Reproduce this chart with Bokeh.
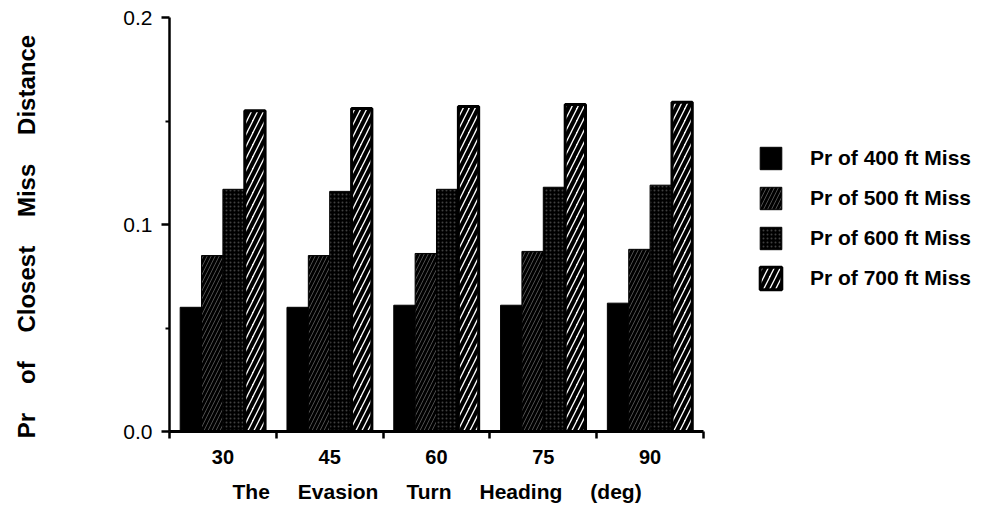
from bokeh.plotting import figure
from bokeh.models import ColumnDataSource, FixedTicker, Range1d, Legend, LegendItem, PrintfTickFormatter, Title
from bokeh.transform import dodge
from bokeh.embed import file_html
from bokeh.resources import INLINE

headings = ["30", "45", "60", "75", "90"]
pr400 = [0.060, 0.060, 0.061, 0.061, 0.062]
pr500 = [0.085, 0.085, 0.086, 0.087, 0.088]
pr600 = [0.117, 0.116, 0.117, 0.118, 0.119]
pr700 = [0.155, 0.156, 0.157, 0.158, 0.159]
series_labels = ["Pr of 400 ft Miss", "Pr of 500 ft Miss", "Pr of 600 ft Miss", "Pr of 700 ft Miss"]
x_title = "The\u2003\u2004Evasion\u2003\u2004Turn\u2003\u2004Heading\u2003\u2004(deg)"
y_title = "Pr\u2003\u2009of\u2003\u2009Closest\u2003\u2009Miss\u2003\u2009Distance\u2003"

src = ColumnDataSource(dict(x=list(range(len(headings))), pr400=pr400, pr500=pr500, pr600=pr600, pr700=pr700))

# frame spans wider than the axis so the legend can sit to the right of the bars
p = figure(width=997, height=514, output_backend="svg", toolbar_location=None,
           x_range=Range1d(-0.5, 7.253), y_range=Range1d(0, 0.2),
           min_border_left=169, min_border_right=0, min_border_top=17, min_border_bottom=83)
p.outline_line_color = None
p.xgrid.visible = False
p.ygrid.visible = False

FONT = "Liberation Sans"
w = 0.2
r1 = p.vbar(x=dodge("x", -0.3), top="pr400", width=w, source=src,
            fill_color="black", line_color="black", line_width=1)
r2 = p.vbar(x=dodge("x", -0.1), top="pr500", width=w, source=src,
            fill_color="black", line_color="black", line_width=1,
            hatch_pattern="/", hatch_color="white", hatch_alpha=0.3, hatch_scale=8, hatch_weight=1)
r3 = p.vbar(x=dodge("x", 0.1), top="pr600", width=w, source=src,
            fill_color="black", line_color="black", line_width=1,
            hatch_pattern=".", hatch_color="white", hatch_alpha=0.25, hatch_scale=4, hatch_weight=1)
r4 = p.vbar(x=dodge("x", 0.3), top="pr700", width=w * 0.95, source=src,
            fill_color="white", line_color="black", line_width=3,
            hatch_pattern="/", hatch_color="black", hatch_scale=12, hatch_weight=4)

# axes
xa = p.xaxis[0]
xa.bounds = (-0.5, 4.5)
xa.ticker = FixedTicker(ticks=list(range(len(headings))), minor_ticks=[i - 0.5 for i in range(len(headings) + 1)])
xa.major_label_overrides = {i: h for i, h in enumerate(headings)}
xa.major_tick_out = 0
xa.major_tick_in = 0
xa.minor_tick_out = 7
xa.minor_tick_in = 0
xa.minor_tick_line_width = 2.5
xa.axis_line_width = 3
xa.major_label_standoff = 11
xa.major_label_text_font = FONT
xa.major_label_text_font_size = "20px"
xa.major_label_text_font_style = "bold"
xa.major_label_text_color = "black"

ya = p.yaxis[0]
ya.ticker = FixedTicker(ticks=[0, 0.1, 0.2], minor_ticks=[0.05, 0.15])
ya.formatter = PrintfTickFormatter(format="%.1f")
ya.major_tick_out = 8
ya.major_tick_in = 0
ya.minor_tick_out = 4
ya.minor_tick_in = 0
ya.major_tick_line_width = 2.5
ya.minor_tick_line_width = 2
ya.axis_line_width = 2.5
ya.major_label_standoff = 9
ya.major_label_text_font = FONT
ya.major_label_text_font_size = "21px"
ya.major_label_text_color = "black"
ya.axis_label = y_title
ya.axis_label_text_font = FONT
ya.axis_label_text_font_size = "24px"
ya.axis_label_text_font_style = "bold"
ya.axis_label_text_color = "black"
ya.axis_label_standoff = 80

# x axis title placed as a title so it can be offset like the original
xt = Title(text=x_title, align="left", offset=63, standoff=22,
           text_font=FONT, text_font_size="21px", text_font_style="bold", text_color="black")
p.add_layout(xt, "below")

legend = Legend(items=[LegendItem(label=series_labels[0], renderers=[r1]),
                       LegendItem(label=series_labels[1], renderers=[r2]),
                       LegendItem(label=series_labels[2], renderers=[r3]),
                       LegendItem(label=series_labels[3], renderers=[r4])],
                location=(588, 139), border_line_color=None, background_fill_alpha=0,
                padding=0, margin=0, spacing=12, glyph_width=27, glyph_height=28,
                label_standoff=26, label_text_font=FONT, label_text_font_size="21px",
                label_text_font_style="bold", label_text_color="black")
p.add_layout(legend)

open("out.html", "w").write(file_html(p, INLINE))
